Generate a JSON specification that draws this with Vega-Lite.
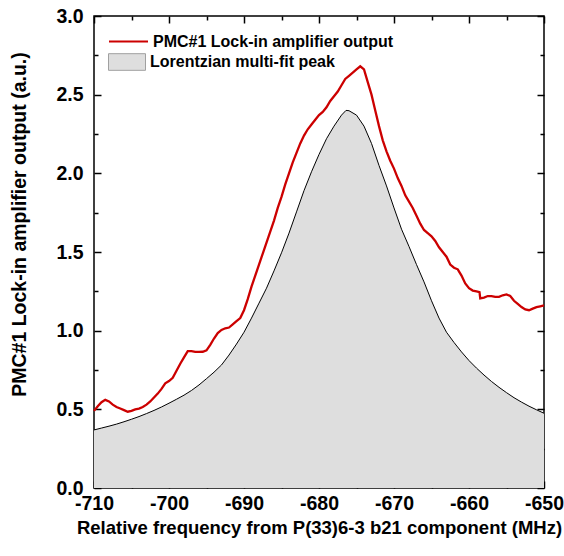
{
  "$schema": "https://vega.github.io/schema/vega-lite/v6.json",
  "width": 450,
  "height": 472,
  "autosize": {"type": "none"},
  "padding": {"left": 94, "top": 16, "right": 20, "bottom": 68},
  "background": "white",
  "config": {
    "font": "Liberation Sans",
    "view": {"stroke": "black", "strokeWidth": 1.5},
    "axis": {"grid": false, "domain": false, "tickColor": "black", "tickWidth": 1.5, "labelColor": "black", "titleColor": "black", "labelFont": "Liberation Sans", "titleFont": "Liberation Sans", "labelFontWeight": "bold", "titleFontWeight": "bold", "labelFontSize": 19.5, "titleFontSize": 18.5, "labelFlush": false, "labelOverlap": false}
  },
  "datasets": {
    "fit": [
      {"f": -710, "v": 0.369}, {"f": -709, "v": 0.381}, {"f": -708, "v": 0.393}, {"f": -707, "v": 0.406},
      {"f": -706, "v": 0.421}, {"f": -705, "v": 0.437}, {"f": -704, "v": 0.454}, {"f": -703, "v": 0.473},
      {"f": -702, "v": 0.493}, {"f": -701, "v": 0.515}, {"f": -700, "v": 0.539}, {"f": -699, "v": 0.564},
      {"f": -698, "v": 0.59}, {"f": -697, "v": 0.62}, {"f": -696, "v": 0.655}, {"f": -695, "v": 0.695},
      {"f": -694, "v": 0.736}, {"f": -693, "v": 0.782}, {"f": -692, "v": 0.845}, {"f": -691, "v": 0.915},
      {"f": -690, "v": 0.99}, {"f": -689, "v": 1.08}, {"f": -688, "v": 1.175}, {"f": -687, "v": 1.27},
      {"f": -686, "v": 1.38}, {"f": -685, "v": 1.495}, {"f": -684, "v": 1.62}, {"f": -683, "v": 1.755},
      {"f": -682, "v": 1.89}, {"f": -681, "v": 2.01}, {"f": -680, "v": 2.12}, {"f": -679, "v": 2.22},
      {"f": -678, "v": 2.3}, {"f": -677, "v": 2.37}, {"f": -676.4, "v": 2.4}, {"f": -676, "v": 2.398},
      {"f": -675, "v": 2.37}, {"f": -674, "v": 2.3}, {"f": -673, "v": 2.19}, {"f": -672, "v": 2.05},
      {"f": -671, "v": 1.92}, {"f": -670, "v": 1.78}, {"f": -669, "v": 1.645}, {"f": -668, "v": 1.535},
      {"f": -667, "v": 1.42}, {"f": -666, "v": 1.31}, {"f": -665, "v": 1.19}, {"f": -664, "v": 1.08},
      {"f": -663, "v": 0.99}, {"f": -662, "v": 0.925}, {"f": -661, "v": 0.865}, {"f": -660, "v": 0.81},
      {"f": -659, "v": 0.762}, {"f": -658, "v": 0.718}, {"f": -657, "v": 0.677}, {"f": -656, "v": 0.64},
      {"f": -655, "v": 0.606}, {"f": -654, "v": 0.574}, {"f": -653, "v": 0.546}, {"f": -652, "v": 0.52},
      {"f": -651, "v": 0.497}, {"f": -650, "v": 0.475}
    ],
    "signal": [
      {"f": -710, "v": 0.49}, {"f": -709.5, "v": 0.52}, {"f": -709, "v": 0.545}, {"f": -708.5, "v": 0.56},
      {"f": -708, "v": 0.55}, {"f": -707.5, "v": 0.53}, {"f": -707, "v": 0.515}, {"f": -706.5, "v": 0.505},
      {"f": -706, "v": 0.495}, {"f": -705.5, "v": 0.485}, {"f": -705, "v": 0.49}, {"f": -704.5, "v": 0.5},
      {"f": -704, "v": 0.505}, {"f": -703.5, "v": 0.515}, {"f": -703, "v": 0.53}, {"f": -702.5, "v": 0.55},
      {"f": -702, "v": 0.575}, {"f": -701.5, "v": 0.6}, {"f": -701, "v": 0.63}, {"f": -700.5, "v": 0.665},
      {"f": -700, "v": 0.68}, {"f": -699.5, "v": 0.7}, {"f": -699, "v": 0.745}, {"f": -698.5, "v": 0.79},
      {"f": -698, "v": 0.83}, {"f": -697.5, "v": 0.87}, {"f": -697, "v": 0.87}, {"f": -696.5, "v": 0.865},
      {"f": -696, "v": 0.865}, {"f": -695.5, "v": 0.866}, {"f": -695, "v": 0.875}, {"f": -694.5, "v": 0.91},
      {"f": -694, "v": 0.95}, {"f": -693.5, "v": 0.985}, {"f": -693, "v": 1.005}, {"f": -692.5, "v": 1.015},
      {"f": -692, "v": 1.02}, {"f": -691.5, "v": 1.04}, {"f": -691, "v": 1.06}, {"f": -690.5, "v": 1.08},
      {"f": -690, "v": 1.13}, {"f": -689.5, "v": 1.2}, {"f": -689, "v": 1.28}, {"f": -688.5, "v": 1.35},
      {"f": -688, "v": 1.42}, {"f": -687.5, "v": 1.49}, {"f": -687, "v": 1.56}, {"f": -686.5, "v": 1.63},
      {"f": -686, "v": 1.7}, {"f": -685.5, "v": 1.78}, {"f": -685, "v": 1.85}, {"f": -684.5, "v": 1.93},
      {"f": -684, "v": 2.0}, {"f": -683.5, "v": 2.07}, {"f": -683, "v": 2.13}, {"f": -682.5, "v": 2.19},
      {"f": -682, "v": 2.24}, {"f": -681.5, "v": 2.28}, {"f": -681, "v": 2.31}, {"f": -680.5, "v": 2.34},
      {"f": -680, "v": 2.37}, {"f": -679.5, "v": 2.39}, {"f": -679, "v": 2.42}, {"f": -678.5, "v": 2.46},
      {"f": -678, "v": 2.49}, {"f": -677.5, "v": 2.52}, {"f": -677, "v": 2.56}, {"f": -676.5, "v": 2.6},
      {"f": -676, "v": 2.62}, {"f": -675.5, "v": 2.64}, {"f": -675, "v": 2.66}, {"f": -674.5, "v": 2.68},
      {"f": -674, "v": 2.66}, {"f": -673.5, "v": 2.58}, {"f": -673, "v": 2.5}, {"f": -672.5, "v": 2.4},
      {"f": -672, "v": 2.3}, {"f": -671.5, "v": 2.21}, {"f": -671, "v": 2.14}, {"f": -670.5, "v": 2.08},
      {"f": -670, "v": 2.03}, {"f": -669.5, "v": 1.97}, {"f": -669, "v": 1.92}, {"f": -668.5, "v": 1.86},
      {"f": -668, "v": 1.82}, {"f": -667.5, "v": 1.78}, {"f": -667, "v": 1.73}, {"f": -666.5, "v": 1.68},
      {"f": -666, "v": 1.64}, {"f": -665.5, "v": 1.62}, {"f": -665, "v": 1.6}, {"f": -664.5, "v": 1.57},
      {"f": -664, "v": 1.53}, {"f": -663.5, "v": 1.5}, {"f": -663, "v": 1.47}, {"f": -662.5, "v": 1.42},
      {"f": -662, "v": 1.4}, {"f": -661.5, "v": 1.39}, {"f": -661, "v": 1.35}, {"f": -660.5, "v": 1.3},
      {"f": -660, "v": 1.27}, {"f": -659.5, "v": 1.255}, {"f": -659, "v": 1.25}, {"f": -658.6, "v": 1.245},
      {"f": -658.5, "v": 1.205}, {"f": -658, "v": 1.21}, {"f": -657.5, "v": 1.22}, {"f": -657, "v": 1.22},
      {"f": -656.5, "v": 1.215}, {"f": -656, "v": 1.215}, {"f": -655.5, "v": 1.225}, {"f": -655, "v": 1.23},
      {"f": -654.5, "v": 1.22}, {"f": -654, "v": 1.19}, {"f": -653.5, "v": 1.17}, {"f": -653, "v": 1.15},
      {"f": -652.5, "v": 1.135}, {"f": -652, "v": 1.13}, {"f": -651.5, "v": 1.14}, {"f": -651, "v": 1.15},
      {"f": -650.5, "v": 1.155}, {"f": -650, "v": 1.16}
    ]
  },
  "layer": [
    {
      "data": {"name": "fit"},
      "mark": {"type": "area", "color": "#dedede"},
      "encoding": {
        "x": {"field": "f", "type": "quantitative", "scale": {"domain": [-710, -650], "nice": false, "zero": false},
          "axis": {"orient": "bottom", "values": [-710, -700, -690, -680, -670, -660, -650], "labelExpr": "replace(datum.label, '\u2212', '-')", "tickSize": -7, "labelPadding": 13, "title": "Relative frequency from P(33)6-3 b21 component (MHz)", "titlePadding": 6}},
        "y": {"field": "v", "type": "quantitative", "scale": {"domain": [0, 3], "nice": false},
          "axis": {"orient": "left", "values": [0, 0.5, 1, 1.5, 2, 2.5, 3], "format": ".1f", "tickSize": -7, "labelPadding": 18, "title": "PMC#1 Lock-in amplifier output (a.u.)", "titleFontSize": 19.5, "titleY": 208, "titlePadding": 26}},
        "fill": {"datum": "Lorentzian multi-fit peak", "scale": {"range": ["#dedede"]},
          "legend": {"orient": "none", "legendX": 14, "legendY": 27, "title": null, "padding": 0, "symbolType": "M-1,-0.45L1,-0.45L1,0.45L-1,0.45Z", "symbolSize": 1369, "symbolStrokeColor": "#a0a0a0", "symbolStrokeWidth": 1, "labelFontSize": 16, "labelFontWeight": "bold", "labelFont": "Liberation Sans", "labelColor": "black", "labelOffset": 4, "labelLimit": 0}}
      }
    },
    {
      "data": {"name": "fit"},
      "mark": {"type": "line", "color": "black", "strokeWidth": 1},
      "encoding": {
        "x": {"field": "f", "type": "quantitative", "axis": {"orient": "top", "values": [-710, -700, -690, -680, -670, -660, -650], "tickSize": -7, "labels": false, "title": null}},
        "y": {"field": "v", "type": "quantitative", "axis": {"orient": "right", "values": [0, 0.5, 1, 1.5, 2, 2.5, 3], "tickSize": -7, "labels": false, "title": null}}
      }
    },
    {
      "data": {"name": "signal"},
      "mark": {"type": "line", "strokeWidth": 2.3},
      "encoding": {
        "x": {"field": "f", "type": "quantitative", "axis": {"orient": "bottom", "values": [-705, -695, -685, -675, -665, -655], "tickSize": -4, "labels": false, "title": null}},
        "y": {"field": "v", "type": "quantitative", "axis": {"orient": "left", "values": [0.25, 0.75, 1.25, 1.75, 2.25, 2.75], "tickSize": -4, "labels": false, "title": null}},
        "stroke": {"datum": "PMC#1 Lock-in amplifier output", "scale": {"range": ["#cc0000"]},
          "legend": {"orient": "none", "legendX": 14, "legendY": 5, "title": null, "padding": 0, "symbolType": "stroke", "symbolSize": 1521, "symbolStrokeWidth": 2, "labelFontSize": 16, "labelFontWeight": "bold", "labelFont": "Liberation Sans", "labelColor": "black", "labelOffset": 4, "labelLimit": 0}}
      }
    },
    {
      "data": {"name": "signal"},
      "mark": {"type": "line", "opacity": 0},
      "encoding": {
        "x": {"field": "f", "type": "quantitative", "axis": {"orient": "top", "values": [-705, -695, -685, -675, -665, -655], "tickSize": -4, "labels": false, "title": null}},
        "y": {"field": "v", "type": "quantitative", "axis": {"orient": "right", "values": [0.25, 0.75, 1.25, 1.75, 2.25, 2.75], "tickSize": -4, "labels": false, "title": null}}
      }
    }
  ],
  "resolve": {"axis": {"x": "independent", "y": "independent"}}
}
